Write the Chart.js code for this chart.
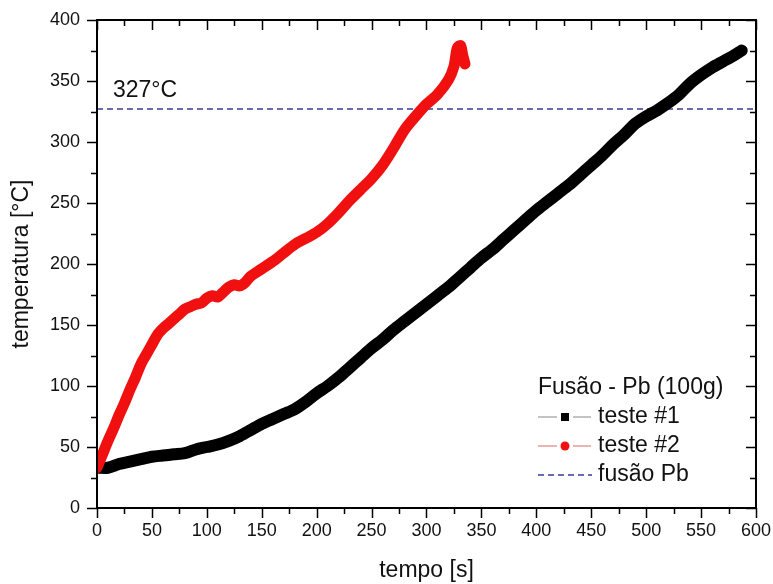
<!DOCTYPE html>
<html>
<head>
<meta charset="utf-8">
<script src="https://cdn.jsdelivr.net/npm/chart.js@4/dist/chart.umd.min.js"></script>
<style>
    html, body { margin: 0; padding: 0; background: #fff; }
    #chart { display: block; }
</style>
</head>
<body>
<canvas id="chart" width="773" height="584"></canvas>
<script>
// teste #1 (black)
const tempoA = [0, 10, 20, 30, 40, 50, 60, 70, 80, 90, 100, 110, 120, 130, 140, 150, 160, 170, 180, 190,
    200, 210, 220, 230, 240, 250, 260, 270, 280, 290, 300, 310, 320, 330, 340, 350, 360, 370, 380, 390,
    400, 410, 420, 430, 440, 450, 460, 470, 480, 490, 500, 510, 520, 530, 540, 550, 560, 570, 580, 587];
const tempA = [33, 33, 36, 38, 40, 42, 43, 44, 45, 48, 50, 52, 55, 59, 64, 69, 73, 77, 81, 87,
    94, 100, 107, 115, 123, 131, 138, 146, 153, 160, 167, 174, 181, 189, 197, 205, 212, 220, 228, 236,
    244, 251, 258, 265, 273, 281, 289, 298, 306, 315, 321, 326, 332, 339, 348, 355, 361, 366, 371, 375];

// teste #2 (red)
const tempoB = [0, 5, 10, 15, 20, 25, 30, 35, 40, 45, 50, 55, 60, 65, 70, 75, 80, 85, 90, 95,
    100, 105, 110, 115, 120, 125, 130, 135, 140, 150, 160, 170, 180, 190, 200, 210, 220, 230, 240, 250,
    260, 270, 280, 290, 300, 310, 320, 325, 328, 331, 333, 335];
const tempB = [33, 44, 55, 65, 76, 86, 97, 107, 118, 126, 134, 142, 147, 151, 155, 159, 163, 165, 167, 168,
    172, 174, 173, 177, 181, 183, 182, 185, 190, 196, 202, 209, 216, 221, 226, 233, 242, 252, 261, 270,
    281, 295, 310, 321, 331, 339, 351, 362, 377, 379, 371, 364];

const fusaoPb = 327;
const xTicks = [0, 50, 100, 150, 200, 250, 300, 350, 400, 450, 500, 550, 600];
const yTicks = [0, 50, 100, 150, 200, 250, 300, 350, 400];

const FONT = '"Liberation Sans", Arial, sans-serif';

const toPoints = (xs, ys) => xs.map((x, i) => ({ x, y: ys[i] }));

// frame, tick marks, titles, labels and legend
const decorPlugin = {
    id: 'decor',
    afterDraw(chart) {
        const { ctx, chartArea: a, scales: { x, y } } = chart;
        ctx.save();
        ctx.strokeStyle = '#000';
        ctx.lineWidth = 2;
        ctx.strokeRect(a.left, a.top, a.right - a.left, a.bottom - a.top);

        ctx.lineWidth = 1.5;
        ctx.beginPath();
        for (let v = 0; v <= 600; v += 25) {
            const px = Math.round(x.getPixelForValue(v)) + 0.5;
            const len = v % 50 === 0 ? 10 : 6;
            ctx.moveTo(px, a.bottom); ctx.lineTo(px, a.bottom + len);
            ctx.moveTo(px, a.top); ctx.lineTo(px, a.top + len);
        }
        for (let v = 0; v <= 400; v += 25) {
            const py = Math.round(y.getPixelForValue(v)) + 0.5;
            const len = v % 50 === 0 ? 10 : 6;
            ctx.moveTo(a.left, py); ctx.lineTo(a.left - len, py);
            ctx.moveTo(a.right, py); ctx.lineTo(a.right - len, py);
        }
        ctx.stroke();

        ctx.fillStyle = '#111';
        ctx.font = `23px ${FONT}`;
        ctx.textBaseline = 'middle';
        ctx.textAlign = 'center';
        ctx.fillText('tempo [s]', (a.left + a.right) / 2, 571);
        ctx.save();
        ctx.translate(22, (a.top + a.bottom) / 2);
        ctx.rotate(-Math.PI / 2);
        ctx.fillText('temperatura [°C]', 0, 0);
        ctx.restore();

        ctx.textAlign = 'left';
        ctx.fillText('327°C', 113, y.getPixelForValue(fusaoPb) - 18);

        // legend
        const lx = 538, tx = 598;
        ctx.fillText('Fusão - Pb (100g)', lx, 388);
        const rows = [417, 446, 475];
        ctx.fillText('teste #1', tx, rows[0]);
        ctx.fillText('teste #2', tx, rows[1]);
        ctx.fillText('fusão Pb', tx, rows[2]);

        ctx.lineWidth = 1;
        ctx.strokeStyle = '#888';
        ctx.beginPath();
        ctx.moveTo(lx, rows[0]); ctx.lineTo(557, rows[0]);
        ctx.moveTo(573, rows[0]); ctx.lineTo(591, rows[0]);
        ctx.stroke();
        ctx.fillStyle = '#000';
        ctx.fillRect(561, rows[0] - 4, 8, 8);

        ctx.strokeStyle = '#d46a6a';
        ctx.beginPath();
        ctx.moveTo(lx, rows[1]); ctx.lineTo(557, rows[1]);
        ctx.moveTo(573, rows[1]); ctx.lineTo(591, rows[1]);
        ctx.stroke();
        ctx.fillStyle = '#f01010';
        ctx.beginPath();
        ctx.arc(565, rows[1], 4.5, 0, Math.PI * 2);
        ctx.fill();

        ctx.strokeStyle = '#3a3a96';
        ctx.lineWidth = 1.5;
        ctx.setLineDash([6, 4]);
        ctx.beginPath();
        ctx.moveTo(lx, rows[2]); ctx.lineTo(592, rows[2]);
        ctx.stroke();
        ctx.restore();
    }
};

new Chart(document.getElementById('chart'), {
    type: 'line',
    data: {
        datasets: [
            {
                label: 'teste #2',
                data: toPoints(tempoB, tempB),
                borderColor: '#f01010',
                borderWidth: 11,
                tension: 0.3,
                pointRadius: 0,
                borderCapStyle: 'round',
                borderJoinStyle: 'round'
            },
            {
                label: 'teste #1',
                data: toPoints(tempoA, tempA),
                borderColor: '#000',
                borderWidth: 12,
                tension: 0.3,
                pointRadius: 0,
                borderCapStyle: 'round',
                borderJoinStyle: 'round'
            },
            {
                label: 'fusão Pb',
                data: [{ x: 0, y: fusaoPb }, { x: 600, y: fusaoPb }],
                borderColor: '#3a3a96',
                borderWidth: 1.5,
                borderDash: [6, 4],
                pointRadius: 0
            }
        ]
    },
    options: {
        responsive: false,
        animation: false,
        devicePixelRatio: 1,
        layout: { padding: { top: 20, right: 16, left: 0, bottom: 0 } },
        plugins: { legend: { display: false }, tooltip: { enabled: false } },
        scales: {
            x: {
                type: 'linear',
                min: 0,
                max: 600,
                afterFit: s => { s.height = 76; },
                afterBuildTicks: s => { s.ticks = xTicks.map(value => ({ value })); },
                grid: { drawOnChartArea: false, color: 'rgba(0,0,0,0)', tickLength: 10 },
                border: { display: false },
                ticks: { color: '#111', padding: 2, maxRotation: 0, autoSkip: false, font: { family: FONT, size: 18 } }
            },
            y: {
                type: 'linear',
                min: 0,
                max: 400,
                afterFit: s => { s.width = 97; },
                afterBuildTicks: s => { s.ticks = yTicks.map(value => ({ value })); },
                grid: { drawOnChartArea: false, color: 'rgba(0,0,0,0)', tickLength: 10 },
                border: { display: false },
                ticks: { color: '#111', padding: 7, autoSkip: false, font: { family: FONT, size: 18 } }
            }
        }
    },
    plugins: [decorPlugin]
});
</script>
</body>
</html>
